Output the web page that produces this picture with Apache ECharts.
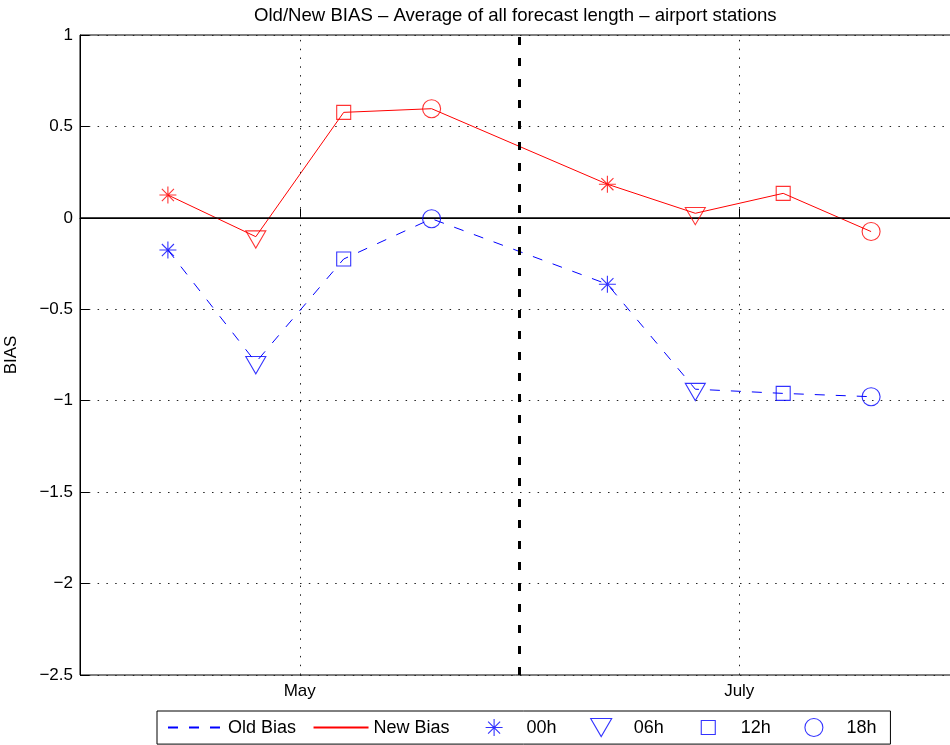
<!DOCTYPE html>
<html>
<head>
<meta charset="utf-8">
<script src="https://cdn.jsdelivr.net/npm/echarts@6/dist/echarts.min.js"></script>
<style>
  html, body { margin: 0; padding: 0; background: #fff; }
  #chart { width: 950px; height: 745px; }
</style>
</head>
<body>
<div id="chart"></div>
<script>
// data
const xPos = [1, 2, 3, 4, 6, 7, 8, 9];
const hourOf = ["00h", "06h", "12h", "18h", "00h", "06h", "12h", "18h"];
const newBias = [0.125, -0.103, 0.577, 0.597, 0.184, 0.025, 0.134, -0.075];
const oldBias = [-0.176, -0.79, -0.225, -0.005, -0.363, -0.937, -0.96, -0.978];
const hours = ["00h", "06h", "12h", "18h"];
const monthTicks = [2.5, 7.5];
const monthLabels = ["May", "July"];
const switchAt = 5;

const RED = "#ff0000";
const BLUE = "#0000ff";
const FONT = "Liberation Sans, Arial, Helvetica, sans-serif";

const markers = {
  "00h": { symbol: "path://M0,-9L0,9M-9,0L9,0M-6.4,-6.4L6.4,6.4M-6.4,6.4L6.4,-6.4", size: 17 },
  "06h": { symbol: "path://M0,-11.5M-10,-5.8L10,-5.8L0,11.5Z", size: [20, 23] },
  "12h": { symbol: "path://M-9,-9M9,9M-7,-7L7,-7L7,7L-7,7Z", size: 18 },
  "18h": { symbol: "circle", size: 18 },
};
// legend icons drawn inside the full 55x18 item box, marker centred
const BOX = "M-27.5,-9M27.5,9";
const legendIcons = {
  "00h": "path://" + BOX + "M0,-8.5L0,8.5M-8.5,0L8.5,0M-6,-6L6,6M-6,6L6,-6",
  "06h": "path://" + BOX + "M-10.5,-9L10.5,-9L0,9Z",
  "12h": "path://" + BOX + "M-7,-7L7,-7L7,7L-7,7Z",
  "18h": "path://" + BOX + "M-9.5,0A9.5,9.5,0,1,1,9.5,0A9.5,9.5,0,1,1,-9.5,0Z",
};
// invisible symbol so the line legend items show only the line
const NO_MARK = "path://M-1,-1L-1,-1M1,1L1,1";

const pairs = (ys) => xPos.map((x, i) => [x, ys[i]]);

const dotted = { color: "#222", width: 1, type: [1.5, 7.3] };

const hourSeries = hours.map((h) => {
  const data = [];
  xPos.forEach((x, i) => {
    if (hourOf[i] !== h) return;
    data.push({ value: [x, oldBias[i]], itemStyle: { borderColor: BLUE } });
    data.push({ value: [x, newBias[i]], itemStyle: { borderColor: RED } });
  });
  return {
    name: h,
    type: "scatter",
    symbol: markers[h].symbol,
    symbolSize: markers[h].size,
    itemStyle: { color: "transparent", borderColor: BLUE, borderWidth: 1.1 },
    data: data,
    z: 5,
    silent: true,
  };
});

const chart = echarts.init(document.getElementById("chart"));
chart.setOption({
  animation: false,
  textStyle: { fontFamily: FONT },
  title: {
    text: "Old/New BIAS \u2013 Average of all forecast length \u2013 airport stations",
    left: 254,
    top: 6,
    padding: 0,
    textStyle: { fontSize: 18.6, fontWeight: "normal", color: "#000", fontFamily: FONT },
  },
  grid: {
    left: 80, right: -9, top: 35, bottom: 70,
    outerBoundsMode: "none",
    show: true, borderColor: "#000", borderWidth: 1,
  },
  legend: {
    data: ["Old Bias", "New Bias"].concat(hours.map((h) => ({
      name: h,
      icon: legendIcons[h],
      itemStyle: { color: "transparent", borderColor: BLUE, borderWidth: 1.1 },
    }))),
    left: 157,
    top: 711,
    orient: "horizontal",
    itemWidth: 55,
    itemHeight: 18,
    itemGap: 16.5,
    padding: [7, 14, 7, 10],
    borderColor: "#000",
    borderWidth: 1,
    selectedMode: false,
    textStyle: { fontSize: 18, color: "#000", fontFamily: FONT },
  },
  xAxis: {
    type: "value",
    min: 0,
    max: 10,
    axisLine: { lineStyle: { color: "#000", width: 1 } },
    axisTick: { show: true, inside: true, length: 9, customValues: monthTicks, lineStyle: { color: "#000" } },
    axisLabel: {
      customValues: monthTicks,
      margin: 8,
      fontSize: 17,
      color: "#000",
      formatter: (v) => monthLabels[monthTicks.indexOf(v)] || "",
    },
    splitLine: { show: false },
  },
  yAxis: {
    type: "value",
    min: -2.5,
    max: 1,
    interval: 0.5,
    name: "BIAS",
    nameLocation: "middle",
    nameGap: 60,
    nameTextStyle: { fontSize: 17, color: "#000" },
    axisLine: { show: true, lineStyle: { color: "#000", width: 1 } },
    axisTick: { show: true, inside: true, length: 9, lineStyle: { color: "#000" } },
    axisLabel: {
      margin: 7,
      fontSize: 17,
      color: "#000",
      formatter: (v) => String(v).replace("-", "\u2212"),
    },
    splitLine: { show: true, lineStyle: dotted },
  },
  series: [
    {
      name: "Old Bias",
      type: "line",
      symbol: NO_MARK,
      showSymbol: false,
      color: BLUE,
      lineStyle: { color: BLUE, width: 1, type: [10, 11] },
      data: pairs(oldBias),
      silent: true,
      z: 3,
      markLine: {
        silent: true,
        symbol: "none",
        label: { show: false },
        animation: false,
        data: monthTicks
          .map((v) => ({ xAxis: v, lineStyle: dotted }))
          .concat([
            { yAxis: 0, lineStyle: { color: "#000", width: 1.6, type: "solid" } },
            { xAxis: switchAt, lineStyle: { color: "#000", width: 3, type: [8, 13] } },
          ]),
      },
    },
    {
      name: "New Bias",
      type: "line",
      symbol: NO_MARK,
      showSymbol: false,
      color: RED,
      lineStyle: { color: RED, width: 1, type: "solid" },
      data: pairs(newBias),
      silent: true,
      z: 3,
    },
  ].concat(hourSeries),
});
</script>
</body>
</html>
